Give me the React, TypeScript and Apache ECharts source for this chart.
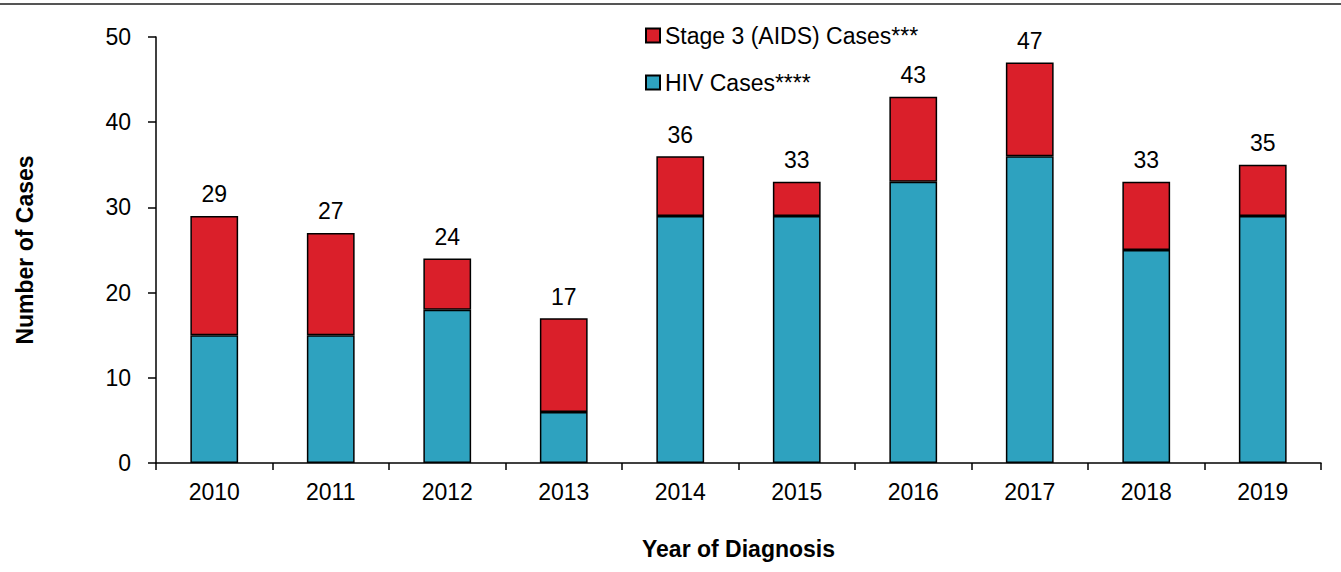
import React, { useEffect, useRef } from "react";
import * as echarts from "echarts";

const years = ["2010", "2011", "2012", "2013", "2014", "2015", "2016", "2017", "2018", "2019"];
const hivCases = [15, 15, 18, 6, 29, 29, 33, 36, 25, 29];
const stage3Cases = [14, 12, 6, 11, 7, 4, 10, 11, 8, 6];
const yTicks = { min: 0, max: 50, interval: 10 };

const FONT = "'Liberation Sans', Arial, sans-serif";

export default function App() {
  const ref = useRef<HTMLDivElement>(null);
  useEffect(() => {
    document.body.style.margin = "0";
    const chart = echarts.init(ref.current!, null, { renderer: "svg" });
    const totals = years.map((_, i) => hivCases[i] + stage3Cases[i]);
    chart.setOption({
      animation: false,
      textStyle: { fontFamily: FONT },
      graphic: [
        {
          type: "line",
          shape: { x1: 0, y1: 4, x2: 1341, y2: 4 },
          style: { stroke: "#555", lineWidth: 2 },
        },
      ],
      legend: {
        orient: "vertical",
        left: 640,
        top: 19,
        itemWidth: 14,
        itemHeight: 14,
        itemGap: 24,
        icon: "rect",
        data: ["Stage 3 (AIDS) Cases***", "HIV Cases****"],
        textStyle: { fontSize: 23, color: "#000", fontFamily: FONT, lineHeight: 23 },
      },
      grid: { left: 156, right: 20, top: 37, bottom: 109, containLabel: false },
      xAxis: {
        type: "category",
        data: years,
        name: "Year of Diagnosis",
        nameLocation: "middle",
        nameGap: 74,
        nameTextStyle: { fontSize: 23, fontWeight: "bold", color: "#000", fontFamily: FONT },
        axisLine: { lineStyle: { color: "#000", width: 1.5 } },
        axisTick: { show: true, alignWithLabel: false, length: 7, lineStyle: { color: "#000", width: 1.5 } },
        axisLabel: { fontSize: 23, color: "#000", margin: 17, fontFamily: FONT },
      },
      yAxis: {
        type: "value",
        min: yTicks.min,
        max: yTicks.max,
        interval: yTicks.interval,
        name: "Number of Cases",
        nameLocation: "middle",
        nameGap: 120,
        nameTextStyle: { fontSize: 23, fontWeight: "bold", color: "#000", fontFamily: FONT },
        axisLine: { show: true, lineStyle: { color: "#000", width: 1.5 } },
        axisTick: { show: true, length: 8, lineStyle: { color: "#000", width: 1.5 } },
        axisLabel: { fontSize: 23, color: "#000", margin: 25, fontFamily: FONT },
        splitLine: { show: false },
      },
      series: [
        {
          name: "HIV Cases****",
          type: "bar",
          stack: "total",
          barWidth: "41%",
          data: hivCases,
          itemStyle: { color: "#2EA2BF", borderColor: "#000", borderWidth: 1.5 },
        },
        {
          name: "Stage 3 (AIDS) Cases***",
          type: "bar",
          stack: "total",
          barWidth: "41%",
          data: stage3Cases,
          itemStyle: { color: "#DA1F2A", borderColor: "#000", borderWidth: 1.5 },
          label: {
            show: true,
            position: "top",
            distance: 10,
            fontSize: 23,
            color: "#000",
            fontFamily: FONT,
            formatter: (p: any) => String(totals[p.dataIndex]),
          },
        },
      ],
    });
    return () => chart.dispose();
  }, []);
  return <div ref={ref} style={{ width: 1341, height: 572 }} />;
}
